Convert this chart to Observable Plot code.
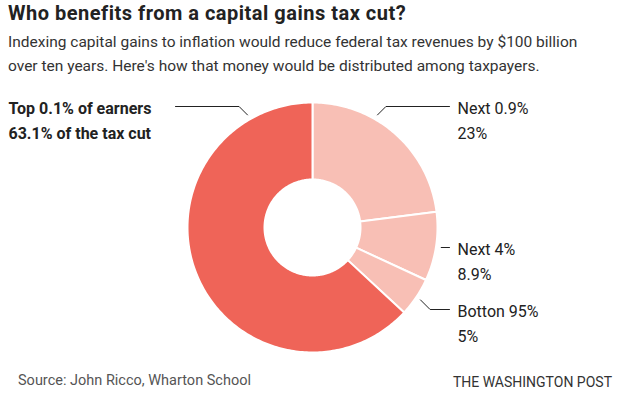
<!DOCTYPE html>
<html><head><meta charset="utf-8">
<script src="https://cdn.jsdelivr.net/npm/d3@7"></script>
<script src="https://cdn.jsdelivr.net/npm/@observablehq/plot@0.6"></script>
<style>
body{margin:0;background:#fff;font-family:Roboto,"Noto Sans",sans-serif;width:620px;height:397px;overflow:hidden;position:relative}
.abs{position:absolute;white-space:nowrap}
#title{left:8px;top:0px;font-size:20px;line-height:26px;font-weight:700;color:#222;letter-spacing:0.5px}
#sub{left:8px;top:30px;font-size:15.5px;line-height:24px;color:#333}
#chart{left:0;top:86px}
#source{left:18px;top:371px;font-size:14.5px;line-height:20px;color:#555}
#wapo{right:8px;top:372px;font-size:14px;line-height:20px;color:#333}
</style></head><body>
<div id="title" class="abs">Who benefits from a capital gains tax cut?</div>
<div id="sub" class="abs">Indexing capital gains to inflation would reduce federal tax revenues by $100 billion<br>over ten years. Here's how that money would be distributed among taxpayers.</div>
<div id="chart" class="abs"></div>
<div id="source" class="abs">Source: John Ricco, Wharton School</div>
<div id="wapo" class="abs">THE WASHINGTON POST</div>
<script>
// ---- data ----
const groups = ["Next 0.9%", "Next 4%", "Botton 95%", "Top 0.1% of earners"];
const shares = [23, 8.9, 5, 63.1];
const shareLabels = ["23%", "8.9%", "5%", "63.1% of the tax cut"];
const sliceColors = ["#f8bfb5", "#f8bfb5", "#f8bfb5", "#ef6458"];

const rows = groups.map((g, i) => ({group: g, share: shares[i], label: shareLabels[i], color: sliceColors[i]}));

// ---- layout (pixels relative to donut centre) ----
const R = 125, r0 = 48;
const deg = Math.PI / 180;
const leaderAngle = [30 * deg, null, null, 330 * deg]; // null -> slice mid-angle
const leaderY = [-121, 20, 82, -121];
const pt = (r, a) => ({x: r * Math.sin(a), y: -r * Math.cos(a)});

const arcs = d3.pie().sort(null).value(d => d.share)(rows);

const poly = [];
arcs.forEach(a => {
  const n = Math.max(2, Math.ceil((a.endAngle - a.startAngle) / deg));
  const pts = [];
  for (let k = 0; k <= n; k++) pts.push(pt(R, a.startAngle + (a.endAngle - a.startAngle) * k / n));
  for (let k = n; k >= 0; k--) pts.push(pt(r0, a.startAngle + (a.endAngle - a.startAngle) * k / n));
  pts.push(pts[0]);
  pts.forEach(p => poly.push({...p, group: a.data.group, color: a.data.color}));
});

const leaders = [];
const texts = [];
arcs.forEach((a, i) => {
  const ang = leaderAngle[i] ?? (a.startAngle + a.endAngle) / 2;
  const s = pt(130, ang);
  const right = Math.sin(ang) > 0;
  const ly = leaderY[i];
  const dx = Math.abs(ly - s.y) * (right ? 1 : -1);
  const e = {x: s.x + dx, y: ly};
  const end = {x: right ? 137 : -137, y: ly};
  [s, e, end].forEach(p => leaders.push({...p, group: a.data.group}));
  const bold = !right;
  const tx = right ? 145 : -304;
  const fs = 16;
  texts.push({x: tx, y: ly + 7 - 0.32 * fs, text: a.data.group, bold});
  texts.push({x: tx, y: ly + 7 + 25 - 0.32 * fs, text: a.data.label, bold});
});

const chart = Plot.plot({
  width: 620, height: 282, margin: 0,
  x: {domain: [-312, 308], range: [0, 620], axis: null},
  y: {domain: [-141, 141], range: [0, 282], axis: null},
  color: {type: "identity"},
  style: {fontFamily: "Roboto, 'Noto Sans', sans-serif", background: "transparent"},
  marks: [
    Plot.line(poly, {x: "x", y: "y", z: "group", fill: "color", stroke: "white", strokeWidth: 2, curve: "linear"}),
    Plot.line(leaders, {x: "x", y: "y", z: "group", stroke: "#222", strokeWidth: 1}),
    Plot.text(texts.filter(d => !d.bold), {x: "x", y: "y", text: "text", textAnchor: "start", fontSize: 16, fill: "#222"}),
    Plot.text(texts.filter(d => d.bold), {x: "x", y: "y", text: "text", textAnchor: "start", fontSize: 16, fontWeight: "bold", fill: "#222"})
  ]
});
document.getElementById("chart").appendChild(chart);
</script>
</body></html>
